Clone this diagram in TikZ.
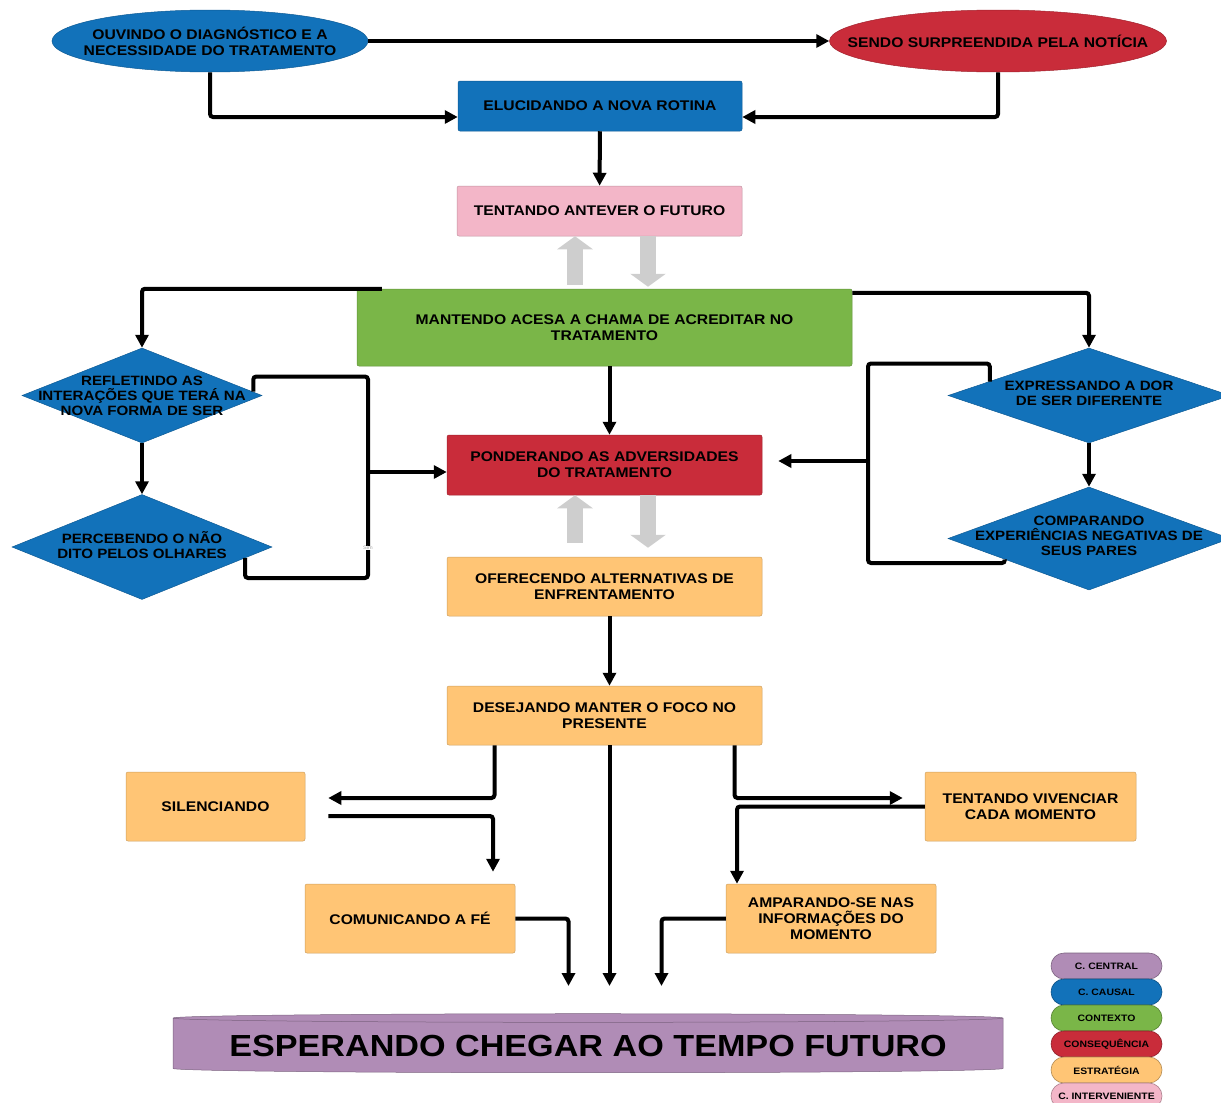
\documentclass[tikz,border=0pt]{standalone}
\usepackage{fontspec}
\setmainfont{Liberation Sans}[FakeStretch=1.12]
\usetikzlibrary{positioning,shapes.geometric,arrows.meta}
\definecolor{causalblue}{RGB}{18,114,186}
\definecolor{consred}{RGB}{201,44,58}
\definecolor{contextgreen}{RGB}{122,182,72}
\definecolor{stratorange}{RGB}{255,197,117}
\definecolor{intpink}{RGB}{243,182,200}
\definecolor{centralpurple}{RGB}{176,140,182}
\definecolor{arrowgrey}{RGB}{206,206,206}

\begin{document}
\begin{tikzpicture}[
        x=1pt, y=-1pt,
        oval/.style={ellipse, draw=#1!80!black, fill=#1, line width=0.5pt, inner sep=0pt},
        box/.style={rectangle, rounded corners=2pt, draw=#1!80!black, fill=#1, line width=0.5pt, inner sep=2pt, align=center, text=black, font=\fontsize{14}{16}\selectfont\bfseries},
        rhomb/.style={diamond, draw=#1!80!black, fill=#1, line width=0.5pt, inner sep=0pt},
        cyl/.style={cylinder, shape border rotate=90, aspect=0.012, draw=centralpurple!70!black, fill=centralpurple, line width=0.5pt, inner sep=0pt, text=black, font=\fontsize{30.5}{34}\selectfont\bfseries},
        label_text/.style={align=center, inner sep=0pt, text=black, font=\fontsize{14}{16}\selectfont\bfseries},
        label_small/.style={align=center, inner sep=0pt, text=black, font=\fontsize{13.5}{15}\selectfont\bfseries},
        sim_label/.style={fill=white, inner sep=0.5pt, text=black!35, font=\fontsize{5}{5}\selectfont},
        key/.style={rectangle, rounded corners=13pt, draw=#1!70!black, fill=#1, line width=0.6pt, minimum width=111pt, minimum height=26pt, inner sep=0pt, text=black, font=\fontsize{9.3}{10}\selectfont\bfseries},
        line/.style={draw, line width=4pt, rounded corners=3pt},
        arrow/.style={line, -{Triangle[length=13pt,width=13pt]}},
        grey_arrow/.style={draw=arrowgrey, line width=16pt, -{Triangle[length=13pt,width=35pt]}}
    ]
        \useasboundingbox (0,0) rectangle (1221,1103);

        % Top - causal conditions
        \node[oval=causalblue, minimum width=316pt, minimum height=62pt] (ouvindo) at (210,41) {};
        \node[label_text] (ouvindo_txt) at (ouvindo) {OUVINDO O DIAGNÓSTICO E A\\NECESSIDADE DO TRATAMENTO};
        \node[oval=consred, minimum width=337pt, minimum height=62pt] (sendo) at (998,41) {};
        \node[label_text] (sendo_txt) at (sendo) {SENDO SURPREENDIDA PELA NOTÍCIA};
        \node[box=causalblue, minimum width=284pt, minimum height=50pt] (elucidando) at (600,106) {ELUCIDANDO A NOVA ROTINA};
        \node[box=intpink, minimum width=285pt, minimum height=50pt] (tentando) at (599.5,211) {TENTANDO ANTEVER O FUTURO};

        % Context
        \node[box=contextgreen, minimum width=495pt, minimum height=77pt] (mantendo) at (604.5,327.5) {MANTENDO ACESA A CHAMA DE ACREDITAR NO\\TRATAMENTO};

        % Left diamonds
        \node[rhomb=causalblue, minimum width=240pt, minimum height=95pt] (refletindo) at (142,395.5) {};
        \node[label_small] (refletindo_txt) at (refletindo) {REFLETINDO AS\\INTERAÇÕES QUE TERÁ NA\\NOVA FORMA DE SER};
        \node[rhomb=causalblue, minimum width=260pt, minimum height=105pt] (percebendo) at (142,547) {};
        \node[label_small] (percebendo_txt) at ([yshift=1.5pt]percebendo) {PERCEBENDO O NÃO\\DITO PELOS OLHARES};

        % Right diamonds
        \node[rhomb=causalblue, minimum width=282pt, minimum height=95pt] (expressando) at (1089,395.5) {};
        \node[label_small] (expressando_txt) at ([yshift=2pt]expressando) {EXPRESSANDO A DOR\\DE SER DIFERENTE};
        \node[rhomb=causalblue, minimum width=282pt, minimum height=103pt] (comparando) at (1089,538.5) {};
        \node[label_small] (comparando_txt) at ([yshift=2.5pt]comparando) {COMPARANDO\\EXPERIÊNCIAS NEGATIVAS DE\\SEUS PARES};

        % Middle column
        \node[box=consred, minimum width=315pt, minimum height=60pt] (ponderando) at (604.5,465) {PONDERANDO AS ADVERSIDADES\\DO TRATAMENTO};
        \node[box=stratorange, minimum width=315pt, minimum height=59pt] (oferecendo) at (604.5,586.5) {OFERECENDO ALTERNATIVAS DE\\ENFRENTAMENTO};
        \node[box=stratorange, minimum width=315pt, minimum height=59pt] (desejando) at (604.5,715.5) {DESEJANDO MANTER O FOCO NO\\PRESENTE};

        % Strategies
        \node[box=stratorange, minimum width=179pt, minimum height=69pt] (silenciando) at (215.5,806.5) {SILENCIANDO};
        \node[box=stratorange, minimum width=211pt, minimum height=69pt] (vivenciar) at (1030.5,806.5) {TENTANDO VIVENCIAR\\CADA MOMENTO};
        \node[box=stratorange, minimum width=210pt, minimum height=69pt] (comunicando) at (410,918.5) {COMUNICANDO A FÉ};
        \node[box=stratorange, minimum width=210pt, minimum height=69pt] (amparando) at (831,918.5) {AMPARANDO-SE NAS\\INFORMAÇÕES DO\\MOMENTO};

        % Central category
        \node[cyl, minimum width=830pt, minimum height=59pt] (esperando) at (588,1045.5) {ESPERANDO CHEGAR AO TEMPO FUTURO};

        % Legend
        \node[key=centralpurple] (key_central) at (1106.5,966) {C. CENTRAL};
        \node[key=causalblue] (key_causal) at (1106.5,992) {C. CAUSAL};
        \node[key=contextgreen] (key_context) at (1106.5,1018) {CONTEXTO};
        \node[key=consred] (key_cons) at (1106.5,1044) {CONSEQUÊNCIA};
        \node[key=stratorange] (key_strat) at (1106.5,1070) {ESTRATÉGIA};
        \node[key=intpink] (key_int) at (1106.5,1096) {C. INTERVENIENTE};

        \coordinate (leftjoin) at (368,472);
        \coordinate (rightjoin) at (868,461);
        \coordinate (goal) at (609.5,986);

        \draw[arrow] (ouvindo) -- (sendo);
        \draw[arrow] (ouvindo.south) |- ([yshift=-11pt]elucidando.west);
        \draw[arrow] (sendo.south) |- ([yshift=-11pt]elucidando.east);
        \draw[arrow] (elucidando) -- (tentando);

        \draw[grey_arrow, shorten <=4pt] ([xshift=-29.5pt]mantendo.north) -- ([xshift=-24.5pt]tentando.south);
        \draw[grey_arrow, shorten >=2pt] ([xshift=48.5pt]tentando.south) -- ([xshift=43.5pt]mantendo.north);

        \draw[arrow] ([xshift=25pt]mantendo.north west) -| (refletindo.north);
        \draw[arrow] ([yshift=-4pt]mantendo.north east) -| (expressando.north);
        \draw[arrow] ([xshift=5pt]mantendo.south) -- ([xshift=5pt]ponderando.north);

        \draw[arrow] (refletindo) -- (percebendo);
        \draw[arrow] (expressando) -- (comparando);

        \draw[line] ([xshift=-9pt,yshift=4pt]refletindo.east) -- ++(0,-15) -| (leftjoin) |- ++(-123,106) -- ([xshift=-27pt,yshift=-11pt]percebendo.east);
        \draw[arrow] (leftjoin) -- (leftjoin -| ponderando.west);
        \node[sim_label] (sim) at ([yshift=-76pt]leftjoin) {Sim};

        \draw[line] ([xshift=42pt,yshift=14pt]expressando.west) -- ++(0,-18) -| (rightjoin) |- ++(137,102) -- ([xshift=57pt,yshift=-21pt]comparando.west);
        \draw[arrow, shorten >=16pt] (rightjoin) -- (rightjoin -| ponderando.east);

        \draw[grey_arrow, shorten <=14pt] ([xshift=-29.5pt]oferecendo.north) -- ([xshift=-29.5pt]ponderando.south);
        \draw[grey_arrow, shorten >=9pt] ([xshift=43.5pt]ponderando.south) -- ([xshift=43.5pt]oferecendo.north);

        \draw[arrow] ([xshift=5pt]oferecendo.south) -- ([xshift=5pt]desejando.north);

        \draw[arrow, shorten >=23pt] ([xshift=-110pt]desejando.south) |- ([yshift=8.5pt]silenciando.east);
        \draw[arrow, shorten >=12pt] ([xshift=23pt,yshift=-9.5pt]silenciando.east) -| ([xshift=83pt]comunicando.north);
        \draw[arrow, shorten >=22pt] ([xshift=130pt]desejando.south) |- ([yshift=8.5pt]vivenciar.west);
        \draw[arrow] (vivenciar.west) -| ([xshift=-94pt]amparando.north);

        \draw[arrow] (comunicando.east) -| ([xshift=-41pt]goal);
        \draw[arrow] ([xshift=5pt]desejando.south) -- (goal);
        \draw[arrow] (amparando.west) -| ([xshift=52pt]goal);

    \end{tikzpicture}
\end{document}
